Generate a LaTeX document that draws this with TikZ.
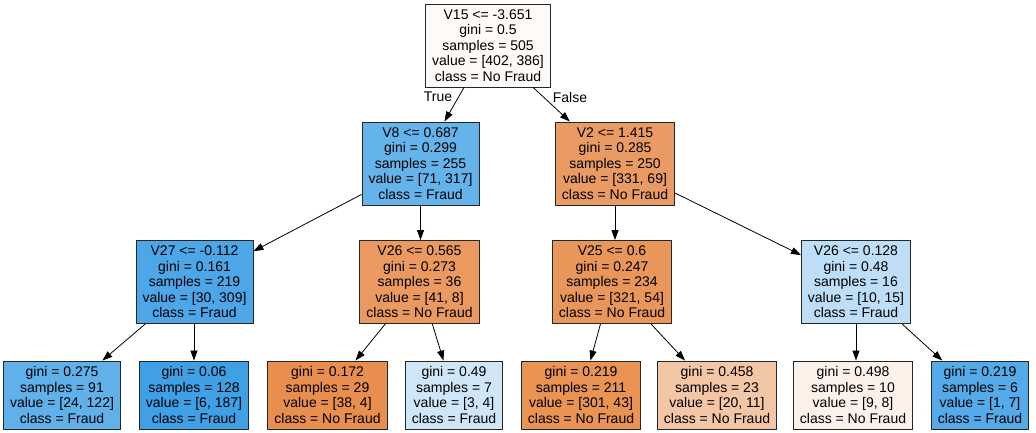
\documentclass[tikz,border=0pt]{standalone}
\usepackage{fontspec}
\setmainfont{Liberation Sans}
\usetikzlibrary{arrows.meta}
\definecolor{c0}{HTML}{FEFAF7}
\definecolor{c1}{HTML}{65B3EB}
\definecolor{c2}{HTML}{EA9B63}
\definecolor{c3}{HTML}{4CA6E8}
\definecolor{c4}{HTML}{EA9A60}
\definecolor{c5}{HTML}{E9965A}
\definecolor{c6}{HTML}{BDDEF6}
\definecolor{l1}{HTML}{60B0EA}
\definecolor{l2}{HTML}{3FA0E6}
\definecolor{l3}{HTML}{E88E4E}
\definecolor{l4}{HTML}{CEE6F8}
\definecolor{l5}{HTML}{E99355}
\definecolor{l6}{HTML}{F3C6A6}
\definecolor{l7}{HTML}{FCF1E9}
\definecolor{l8}{HTML}{55ABE9}
\tikzset{
  treebox/.style={draw=black!85, line width=0.9pt, rectangle, align=center,
    inner xsep=6.5pt, inner ysep=0pt,
    font={\fontsize{14}{15.5}\selectfont}},
  splitbox/.style={treebox, minimum height=83pt},
  leafbox/.style={treebox, minimum height=68pt},
  edge/.style={line width=0.8pt, -{Triangle[length=10pt,width=7pt]}},
  edgelabel/.style={font={\fontsize{14}{15.5}\selectfont}, inner sep=0pt}
}
\begin{document}
\begin{tikzpicture}[x=1pt,y=-1pt]
\useasboundingbox[fill=white] (0,0) rectangle (1036,433);
\node[splitbox, fill=c0] (root) at (488,45.5) {V15 <= -3.651\\gini = 0.5\\samples = 505\\value = [402, 386]\\class = No Fraud};
\node[splitbox, fill=c1] (v8) at (420.5,163.5) {V8 <= 0.687\\gini = 0.299\\samples = 255\\value = [71, 317]\\class = Fraud};
\node[splitbox, fill=c2] (v2) at (615,163.5) {V2 <= 1.415\\gini = 0.285\\samples = 250\\value = [331, 69]\\class = No Fraud};
\node[splitbox, fill=c3] (v27) at (194.5,282) {V27 <= -0.112\\gini = 0.161\\samples = 219\\value = [30, 309]\\class = Fraud};
\node[splitbox, fill=c4] (v26a) at (419.5,282) {V26 <= 0.565\\gini = 0.273\\samples = 36\\value = [41, 8]\\class = No Fraud};
\node[splitbox, fill=c5] (v25) at (612,282) {V25 <= 0.6\\gini = 0.247\\samples = 234\\value = [321, 54]\\class = No Fraud};
\node[splitbox, fill=c6] (v26b) at (856,282) {V26 <= 0.128\\gini = 0.48\\samples = 16\\value = [10, 15]\\class = Fraud};
\node[leafbox, fill=l1] (a1) at (62,395) {gini = 0.275\\samples = 91\\value = [24, 122]\\class = Fraud};
\node[leafbox, fill=l2] (a2) at (194,395) {gini = 0.06\\samples = 128\\value = [6, 187]\\class = Fraud};
\node[leafbox, fill=l3] (a3) at (327.5,395) {gini = 0.172\\samples = 29\\value = [38, 4]\\class = No Fraud};
\node[leafbox, fill=l4] (a4) at (454,395) {gini = 0.49\\samples = 7\\value = [3, 4]\\class = Fraud};
\node[leafbox, fill=l5] (a5) at (581,395) {gini = 0.219\\samples = 211\\value = [301, 43]\\class = No Fraud};
\node[leafbox, fill=l6] (a6) at (717,395) {gini = 0.458\\samples = 23\\value = [20, 11]\\class = No Fraud};
\node[leafbox, fill=l7] (a7) at (853,395) {gini = 0.498\\samples = 10\\value = [9, 8]\\class = No Fraud};
\node[leafbox, fill=l8] (a8) at (980,395) {gini = 0.219\\samples = 6\\value = [1, 7]\\class = Fraud};
\draw[edge] (root) -- (v8);
\draw[edge] (root) -- (v2);
\draw[edge] (v8) -- (v27);
\draw[edge] (v8.south) -- (v8.south |- v26a.north);
\draw[edge] (v2.south) -- (v2.south |- v25.north);
\draw[edge] (v2) -- (v26b);
\draw[edge] (v27) -- (a1);
\draw[edge] (a2.north |- v27.south) -- (a2.north);
\draw[edge] (v26a) -- (a3);
\draw[edge] (v26a) -- (a4);
\draw[edge] (v25) -- (a5);
\draw[edge] (v25) -- (a6);
\draw[edge] (v26b.south) -- (v26b.south |- a7.north);
\draw[edge] (v26b) -- (a8);
\node[edgelabel] (lt) at (438,97) {True};
\node[edgelabel] (lf) at (570,97) {False};
\end{tikzpicture}
\end{document}
